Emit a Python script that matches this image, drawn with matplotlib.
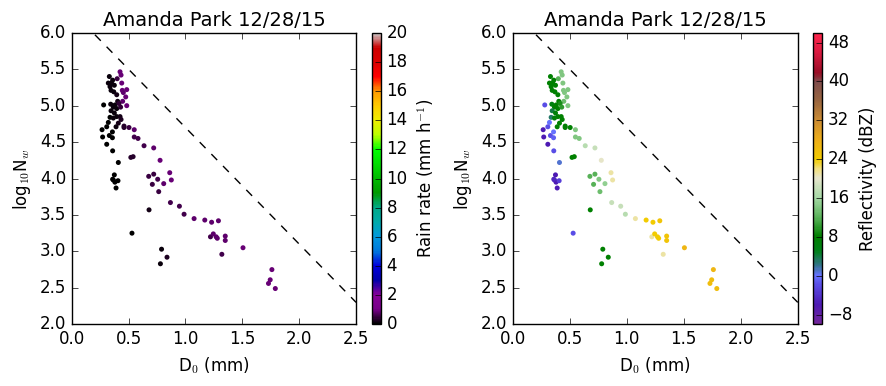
import matplotlib
matplotlib.use('Agg')
import matplotlib.pyplot as plt
import numpy as np
from matplotlib.colors import LinearSegmentedColormap

plt.style.use('classic')

# median drop diameter (mm), log10 Nw, rain rate (mm/h), reflectivity (dBZ)
d0 = [0.425, 0.434, 0.331, 0.40, 0.44, 0.322, 0.36, 0.35, 0.375, 0.337,
      0.445, 0.484, 0.346, 0.37, 0.454, 0.396, 0.475, 0.448, 0.281, 0.343,
      0.404, 0.381, 0.416, 0.484, 0.366, 0.396, 0.43, 0.346, 0.375, 0.337,
      0.396, 0.425, 0.366, 0.434, 0.322, 0.39, 0.41, 0.46, 0.46, 0.504,
      0.55, 0.267, 0.308, 0.272, 0.331, 0.358, 0.358, 0.55, 0.583, 0.308,
      0.636, 0.721, 0.36, 0.52, 0.54, 0.777, 0.41, 0.375, 0.366, 0.38,
      0.407, 0.39, 0.36, 0.677, 0.721, 0.756, 0.709, 0.809, 0.862, 0.876,
      0.765, 0.868, 0.947, 0.68, 0.988, 1.076, 1.17, 1.23, 1.29, 1.22,
      1.245, 1.27, 1.28, 1.35, 1.35, 1.32, 0.53, 0.79, 0.838, 0.78,
      1.506, 1.76, 1.745, 1.73, 1.79]
log_nw = [5.465, 5.42, 5.40, 5.37, 5.31, 5.31, 5.35, 5.31, 5.28, 5.26,
          5.21, 5.22, 5.21, 5.19, 5.18, 5.15, 5.12, 5.06, 5.01, 5.02,
          5.06, 5.01, 5.03, 5.0, 4.98, 4.96, 4.98, 4.93, 4.90, 4.84,
          4.85, 4.85, 4.83, 4.81, 4.77, 4.71, 4.76, 4.72, 4.70, 4.70,
          4.67, 4.67, 4.71, 4.57, 4.59, 4.64, 4.56, 4.57, 4.55, 4.47,
          4.45, 4.42, 4.38, 4.29, 4.30, 4.25, 4.22, 4.05, 3.98, 3.95,
          3.97, 3.87, 3.99, 4.03, 4.06, 3.99, 3.92, 3.93, 4.08, 3.98,
          3.82, 3.67, 3.62, 3.57, 3.51, 3.45, 3.43, 3.40, 3.42, 3.20,
          3.24, 3.20, 3.18, 3.21, 3.15, 2.96, 3.25, 3.03, 2.92, 2.83,
          3.05, 2.75, 2.61, 2.56, 2.49]
rain = [0.9, 0.9, 0.1, 0.5, 0.9, 0.1, 0.1, 0.1, 0.1, 0.1,
        0.9, 0.9, 0.1, 0.1, 0.8, 0.2, 0.9, 0.8, 0.05, 0.15,
        0.2, 0.15, 0.4, 0.9, 0.1, 0.15, 0.4, 0.1, 0.1, 0.05,
        0.15, 0.2, 0.1, 0.3, 0.05, 0.15, 0.2, 0.35, 0.35, 0.5,
        0.8, 0.02, 0.05, 0.02, 0.05, 0.05, 0.05, 0.6, 0.6, 0.02,
        0.6, 0.8, 0.05, 0.35, 0.35, 0.9, 0.05, 0.02, 0.02, 0.02,
        0.05, 0.02, 0.02, 0.5, 0.5, 0.6, 0.5, 0.8, 0.9, 0.9,
        0.5, 0.6, 0.6, 0.2, 0.6, 0.8, 0.8, 0.8, 0.8, 0.6,
        0.8, 0.8, 0.8, 0.8, 0.8, 0.6, 0.02, 0.15, 0.3, 0.1,
        0.9, 0.9, 0.9, 0.9, 0.9]
refl = [14, 14, 8, 12, 14, 8, 8, 8, 8, 8,
        14, 14, 8, 8, 14, 8, 14, 13, -2, 6,
        8, 8, 9, 14, 8, 8, 10, 4, 7, 3,
        8, 8, 7, 8, 0, 8, 8, 8, 8, 8,
        14, -6, -2, -6, -2, 0, -1, 14, 14, -6,
        17, 18, -2, 8, 8, 20, 1, -6, -4, -6,
        -3, -6, -5, 12, 12, 14, 12, 15, 21, 21,
        13, 18, 18, 8, 17, 21, 24, 24, 25, 21,
        24, 24, 24, 25, 25, 21, -2, 8, 8, 8,
        27, 27, 26, 26, 26]

# reference line
line_d0 = [0.0, 2.5]
line_nw = [6.3, 2.3]

# reflectivity colour stops (dBZ, colour)
z_stops = [-10, -6, -2, 0, 2, 5, 8, 12, 16, 20, 22, 24, 28, 32, 36, 40, 41, 42, 46, 50]
z_cols = [(0.45, 0.15, 0.6), (0.3, 0.1, 0.7), (0.35, 0.3, 0.9), (0.4, 0.45, 1.0),
          (0.2, 0.45, 0.55), (0.0, 0.5, 0.1), (0.0, 0.5, 0.0), (0.35, 0.7, 0.35),
          (0.65, 0.85, 0.65), (0.9, 0.9, 0.8), (0.95, 0.88, 0.5), (0.95, 0.8, 0.0),
          (0.93, 0.68, 0.1), (0.8, 0.55, 0.2), (0.6, 0.4, 0.25), (0.5, 0.3, 0.3),
          (0.55, 0.15, 0.2), (0.6, 0.05, 0.15), (0.85, 0.1, 0.25), (1.0, 0.15, 0.3)]
zmin, zmax = -10, 50
refl_cmap = LinearSegmentedColormap.from_list(
    'refl', [((z - zmin) / (zmax - zmin), c) for z, c in zip(z_stops, z_cols)])

fig = plt.figure(figsize=(8.86, 3.86), dpi=100)
fig.patch.set_facecolor('white')

ax1 = fig.add_axes([0.0809, 0.160, 0.321, 0.755])
cax1 = fig.add_axes([0.4195, 0.160, 0.0105, 0.755])
ax2 = fig.add_axes([0.5787, 0.160, 0.3217, 0.755])
cax2 = fig.add_axes([0.9175, 0.160, 0.0105, 0.755])

sc1 = ax1.scatter(d0, log_nw, c=rain, cmap='nipy_spectral', vmin=0, vmax=20,
                  s=13, edgecolors='none')
sc2 = ax2.scatter(d0, log_nw, c=refl, cmap=refl_cmap, vmin=zmin, vmax=zmax,
                  s=13, edgecolors='none')

for ax in [ax1, ax2]:
    ax.plot(line_d0, line_nw, 'k--')
    ax.set_xlim(0, 2.5)
    ax.set_ylim(2, 6)
    ax.set_xticks(np.arange(0, 2.6, 0.5))
    ax.set_yticks(np.arange(2, 6.1, 0.5))
    ax.set_xlabel('D$_0$ (mm)')
    ax.set_ylabel('log$_{10}$N$_w$')
    ax.set_title('Amanda Park 12/28/15', fontsize=14)

cb1 = fig.colorbar(sc1, cax=cax1, ticks=np.arange(0, 21, 2))
cb1.set_label('Rain rate (mm h$^{-1}$)')
cb2 = fig.colorbar(sc2, cax=cax2, ticks=np.arange(-8, 49, 8))
cb2.set_label('Reflectivity (dBZ)')

fig.savefig('out.png', dpi=100, facecolor='white')
